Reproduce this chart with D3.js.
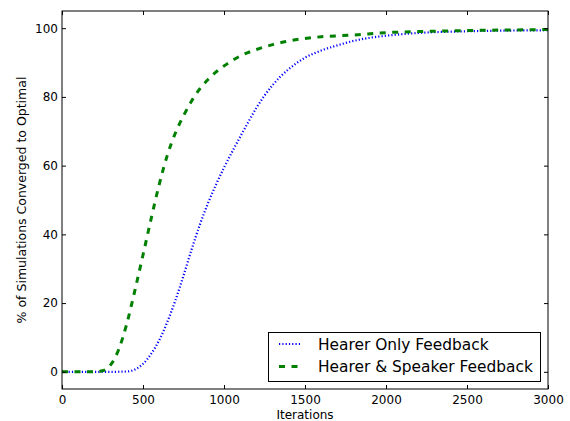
<!DOCTYPE html>
<html><head><meta charset="utf-8">
<script src="https://cdn.jsdelivr.net/npm/d3@7"></script>
<style>html,body{margin:0;padding:0;background:#fff;}svg{display:block;font-family:"DejaVu Sans",sans-serif;}</style>
</head><body>
<script>
const seriesNames = ["Hearer Only Feedback", "Hearer & Speaker Feedback"];
const hearerX = [0,100,200,300,400,450,500,550,600,650,700,750,800,850,900,950,1000,1050,1100,1150,1200,1250,1300,1350,1400,1450,1500,1600,1700,1800,1900,2000,2200,2500,3000];
const hearerY = [0,0,0,0,0.1,0.7,2.3,5.2,9.2,14.5,20.8,28,35.6,42.7,48.9,54.4,59.4,64,68.4,72.7,76.8,80.4,83.4,86,88.1,89.9,91.4,93.5,95,96.3,97.2,97.8,98.6,99.1,99.4];
const bothX = [0,100,200,250,300,350,400,450,500,550,600,650,700,750,800,850,900,950,1000,1100,1200,1300,1400,1500,1600,1800,2000,2200,2500,3000];
const bothY = [0,0,0,0.3,2,6.5,14,23.7,34,44.5,54.5,63,69.5,74.5,78.8,82.3,85,87.2,89,91.9,93.8,95.2,96.3,97,97.5,98,98.7,99,99.3,99.6];
const xTicks = [0,500,1000,1500,2000,2500,3000];
const yTicks = [0,20,40,60,80,100];
const xDomain = [0,3000];
const yDomain = [-5,105];

const W = 570, H = 421;
const m = {left:62, right:22, top:11, bottom:32};
const svg = d3.select("body").append("svg").attr("width",W).attr("height",H);
const x = d3.scaleLinear().domain(xDomain).range([m.left, W-m.right]);
const y = d3.scaleLinear().domain(yDomain).range([H-m.bottom, m.top]);

svg.append("clipPath").attr("id","clip").append("rect")
  .attr("x",m.left).attr("y",m.top).attr("width",W-m.left-m.right).attr("height",H-m.top-m.bottom);

const line = d3.line().x(d=>x(d[0])).y(d=>y(d[1])).curve(d3.curveMonotoneX);
const g = svg.append("g").attr("clip-path","url(#clip)");
g.append("path").datum(hearerX.map((v,i)=>[v,hearerY[i]])).attr("d",line)
  .attr("fill","none").attr("stroke","#0000ff").attr("stroke-width",2.2).attr("stroke-dasharray","1.2,2.1");
g.append("path").datum(bothX.map((v,i)=>[v,bothY[i]])).attr("d",line)
  .attr("fill","none").attr("stroke","#008000").attr("stroke-width",3).attr("stroke-dasharray","6,6.5");

// axes (ticks inside)
const tl = 4;
const axB = svg.append("g").attr("transform",`translate(0,${H-m.bottom})`)
  .call(d3.axisBottom(x).tickValues(xTicks).tickSizeInner(-tl).tickSizeOuter(0).tickPadding(6).tickFormat(d3.format("d")));
const axT = svg.append("g").attr("transform",`translate(0,${m.top})`)
  .call(d3.axisTop(x).tickValues(xTicks).tickSizeInner(-tl).tickSizeOuter(0).tickFormat(""));
const axL = svg.append("g").attr("transform",`translate(${m.left},0)`)
  .call(d3.axisLeft(y).tickValues(yTicks).tickSizeInner(-tl).tickSizeOuter(0).tickPadding(4).tickFormat(d3.format("d")));
const axR = svg.append("g").attr("transform",`translate(${W-m.right},0)`)
  .call(d3.axisRight(y).tickValues(yTicks).tickSizeInner(-tl).tickSizeOuter(0).tickFormat(""));
[axB,axT,axL,axR].forEach(a=>{
  a.select(".domain").remove();
  a.selectAll(".tick line").attr("stroke","#000").attr("stroke-width",1);
  a.selectAll("text").attr("font-size",12).attr("fill","#000").attr("font-family","DejaVu Sans");
});
axB.selectAll("text").attr("dy","0.71em");

svg.append("rect").attr("x",m.left).attr("y",m.top).attr("width",W-m.left-m.right).attr("height",H-m.top-m.bottom)
  .attr("fill","none").attr("stroke","#000").attr("stroke-width",1);

svg.append("text").attr("x",(m.left+W-m.right)/2).attr("y",419).attr("text-anchor","middle")
  .attr("font-size",12).text("Iterations");
svg.append("text").attr("transform",`translate(26,${(m.top+H-m.bottom)/2}) rotate(-90)`).attr("text-anchor","middle")
  .attr("font-size",12.5).text("% of Simulations Converged to Optimal");

// legend
const lg = svg.append("g");
lg.append("rect").attr("x",268.5).attr("y",332.5).attr("width",272).attr("height",49)
  .attr("fill","#fff").attr("stroke","#000").attr("stroke-width",1);
const styles = [{c:"#0000ff",w:2.2,d:"1.2,2.1"},{c:"#008000",w:3,d:"6,6.5"}];
seriesNames.forEach((n,i)=>{
  const yy = 344 + i*22.5;
  lg.append("line").attr("x1",279).attr("x2",300).attr("y1",yy).attr("y2",yy)
    .attr("stroke",styles[i].c).attr("stroke-width",styles[i].w).attr("stroke-dasharray",styles[i].d);
  lg.append("text").attr("x",318).attr("y",yy+5.5).attr("font-size",15.4).text(n);
});
</script>
</body></html>
